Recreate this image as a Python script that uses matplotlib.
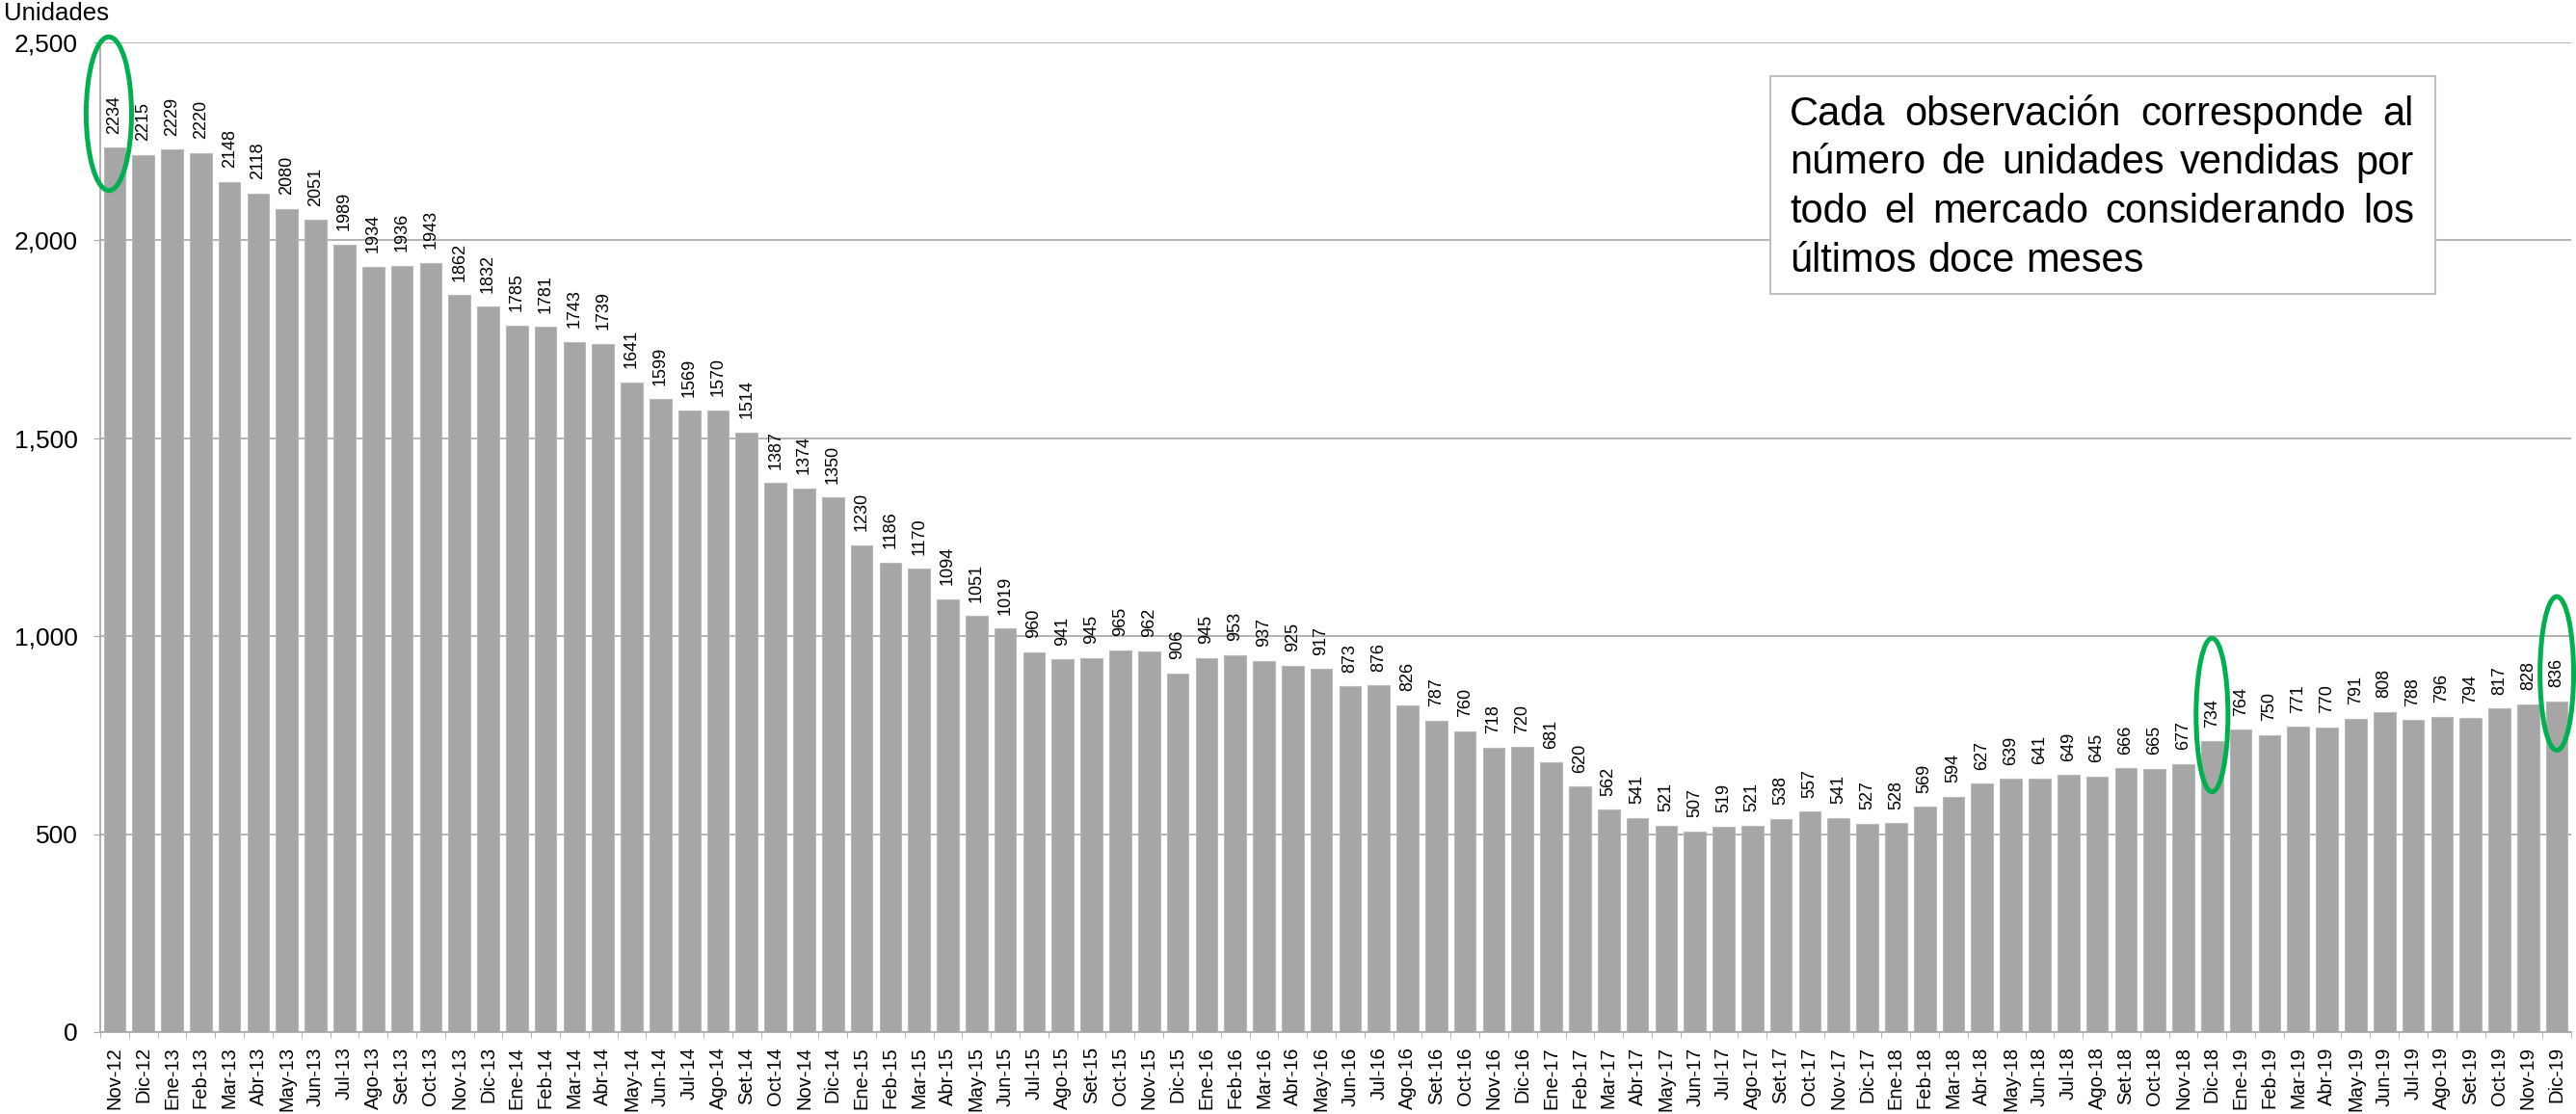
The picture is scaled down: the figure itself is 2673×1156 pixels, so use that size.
import matplotlib
matplotlib.use("Agg")
import matplotlib.pyplot as plt
from matplotlib.patches import Ellipse, Rectangle

plt.rcParams["font.family"] = ["Liberation Sans", "DejaVu Sans"]

# months shown on the x axis (Nov-12 .. Dic-19)
meses = ["Ene", "Feb", "Mar", "Abr", "May", "Jun",
         "Jul", "Ago", "Set", "Oct", "Nov", "Dic"]
periodos = ["Nov-12", "Dic-12"] + [f"{m}-{a}" for a in range(13, 20) for m in meses]

# units sold, rolling twelve months
unidades = [
    2234, 2215,
    2229, 2220, 2148, 2118, 2080, 2051, 1989, 1934, 1936, 1943, 1862, 1832,
    1785, 1781, 1743, 1739, 1641, 1599, 1569, 1570, 1514, 1387, 1374, 1350,
    1230, 1186, 1170, 1094, 1051, 1019, 960, 941, 945, 965, 962, 906,
    945, 953, 937, 925, 917, 873, 876, 826, 787, 760, 718, 720,
    681, 620, 562, 541, 521, 507, 519, 521, 538, 557, 541, 527,
    528, 569, 594, 627, 639, 641, 649, 645, 666, 665, 677, 734,
    764, 750, 771, 770, 791, 808, 788, 796, 794, 817, 828, 836,
]

# bars highlighted with a green ellipse
resaltados = ["Nov-12", "Dic-18", "Dic-19"]

nota = ["Cada observación corresponde al",
        "número de unidades vendidas por",
        "todo el mercado considerando los",
        "últimos doce meses"]

W, H = 2673, 1156
fig = plt.figure(figsize=(W / 100, H / 100), dpi=100)
ax = fig.add_axes([104 / W, 1 - 1071 / H, (2668 - 104) / W, (1071 - 44) / H])

gris = "#A6A6A6"
x = list(range(len(unidades)))
ax.bar(x, unidades, width=0.76, color=gris, edgecolor="#B8B8B8", linewidth=0.8, zorder=2)

for i, v in zip(x, unidades):
    ax.annotate(str(v), (i, v), xytext=(0, 10.5), textcoords="offset points",
                rotation=90, ha="center", va="bottom", fontsize=13)

ax.set_xlim(-0.5, len(unidades) - 0.5)
ax.set_ylim(0, 2500)
ax.set_yticks(range(0, 2501, 500))
ax.set_yticklabels([f"{t:,}" for t in range(0, 2501, 500)], fontsize=19)
ax.tick_params(axis="y", length=5, color=gris, pad=12)

ax.set_xticks(x)
ax.set_xticklabels(periodos, rotation=90, fontsize=14.5)
ax.tick_params(axis="x", which="major", length=0, pad=11)
ax.set_xticks([i - 0.5 for i in range(len(unidades) + 1)], minor=True)
ax.tick_params(axis="x", which="minor", length=4.5, color=gris)

ax.grid(axis="y", color=gris, linewidth=1.2, zorder=0)
ax.set_axisbelow(True)
for s in ["top", "right"]:
    ax.spines[s].set_visible(False)
for s in ["left", "bottom"]:
    ax.spines[s].set_color(gris)
    ax.spines[s].set_linewidth(1.2)

fig.text(4 / W, 1 - 21 / H, "Unidades", fontsize=18.5, va="baseline")

# green ellipses: (period, width in bars, centre offset above value)
formas = {"Nov-12": (1.58, -0.2, 86), "Dic-18": (1.11, 0.0, 67), "Dic-19": (1.17, 0.0, 70)}
for p in resaltados:
    i = periodos.index(p)
    w, dx, dy = formas[p]
    ax.add_patch(Ellipse((i + dx, unidades[i] + dy), w, 388, fill=False,
                         edgecolor="#00B050", linewidth=3.6, clip_on=False, zorder=5))

# note box with justified text
fig.add_artist(Rectangle((1837 / W, 1 - 305 / H), (2527 - 1837) / W, (305 - 79) / H,
                         transform=fig.transFigure, facecolor="white",
                         edgecolor="#BFBFBF", linewidth=1.5, zorder=3))
renderer = fig.canvas.get_renderer()
x0, x1 = 1857, 2505
for k, linea in enumerate(nota):
    yb = 1 - (130 + 50.5 * k) / H
    palabras = linea.split()
    objs = [fig.text(0, yb, p, fontsize=30, va="baseline", zorder=4) for p in palabras]
    anchos = [t.get_window_extent(renderer).width for t in objs]
    if k < len(nota) - 1:
        hueco = (x1 - x0 - sum(anchos)) / (len(palabras) - 1)
    else:
        hueco = 0.278 * 30 * 100 / 72
    pos = x0
    for t, a in zip(objs, anchos):
        t.set_x(pos / W)
        pos += a + hueco

fig.savefig("out.png", dpi=100)
